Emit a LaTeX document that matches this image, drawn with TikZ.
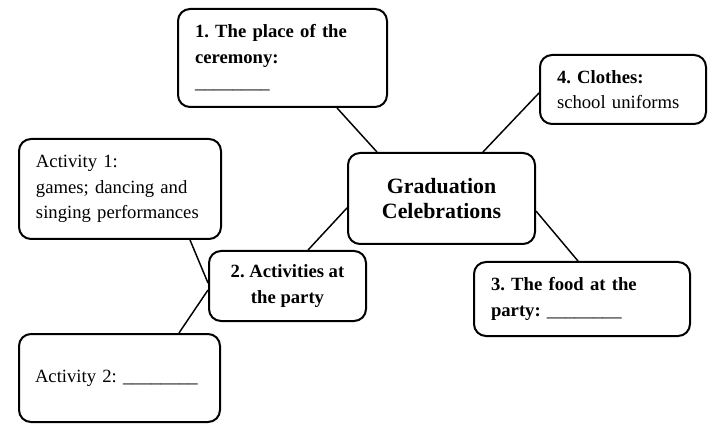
\documentclass[tikz,border=0pt]{standalone}
\usepackage{fontspec}
\setmainfont{Liberation Serif}
\usetikzlibrary{positioning, calc}

\newcommand{\bodyfont}{\fontsize{14pt}{19.2pt}\selectfont\frenchspacing}
\newcommand{\hubfont}{\fontsize{16.4pt}{19pt}\selectfont\bfseries}
\newcommand{\blank}{\_\_\_\_\_\_\_\_}

\begin{document}
\frenchspacing
\begin{tikzpicture}[
    x=0.75pt, y=-0.75pt,
    bubble/.style={draw, line width=1.5pt, rounded corners=9pt, inner xsep=12.75pt, inner ysep=4pt, align=left, font=\bodyfont},
    hub/.style={draw, line width=1.5pt, rounded corners=9pt, align=center, font=\hubfont},
    link/.style={line width=1.1pt}
]
    \useasboundingbox (0,0) rectangle (720,434);

    \node[hub, minimum width=140.25pt, minimum height=68.25pt] (grad) at (441.5,198.5) {Graduation\\Celebrations};
    \node[bubble, text width=131.25pt, minimum height=73.5pt] (place) at (282.5,58) {\textbf{1. The place of the}\\\textbf{ceremony:}\\\blank};
    \node[bubble, text width=99pt, minimum height=51.75pt] (clothes) at (623,89.5) {\textbf{4. Clothes:}\\school uniforms};
    \node[bubble, text width=136.5pt, minimum height=55.5pt] (food) at (582,299) {\textbf{3. The food at the}\\\textbf{party:} \blank};
    \node[bubble, align=center, font=\bodyfont\bfseries, inner xsep=4pt, minimum width=117.75pt, minimum height=52.5pt] (party) at (287.5,286) {2. Activities at\\the party};
    \node[bubble, text width=126pt, minimum height=75pt] (act1) at (120,189) {Activity 1:\\games; dancing and\\singing performances};
    \node[bubble, inner xsep=12pt, text width=126.75pt, minimum height=66pt] (act2) at (119.5,378) {Activity 2: \blank};

    % spokes from the hub
    \draw[link] ([xshift=40.9pt]place.south) -- ([xshift=-48.4pt]grad.north);
    \draw[link] ([yshift=-2.6pt]clothes.west) -- ([xshift=31.1pt]grad.north);
    \draw[link] ([yshift=-9.4pt]grad.east) -- ([xshift=-3pt]food.north);
    \draw[link] ([yshift=-7.1pt]grad.west) -- ([xshift=15.4pt]party.north);
    % activities
    \draw[link] ([xshift=52.5pt]act1.south) -- ([yshift=2.25pt]party.west);
    \draw[link] ([xshift=44.6pt]act2.north) -- ([yshift=-3pt]party.west);
\end{tikzpicture}
\end{document}
